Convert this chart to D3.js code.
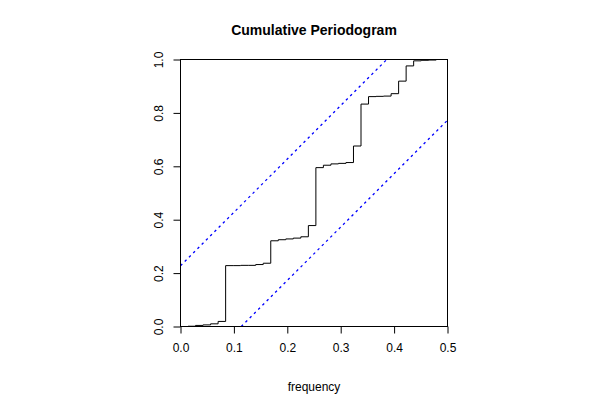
<!DOCTYPE html>
<html>
<head>
<meta charset="utf-8">
<script src="https://cdn.jsdelivr.net/npm/d3@7"></script>
<style>
  html, body { margin: 0; padding: 0; background: #fff; }
  svg { display: block; font-family: "Liberation Sans", Arial, Helvetica, sans-serif; }
</style>
</head>
<body>
<svg id="chart" width="600" height="400"></svg>
<script>
// ---- data ----
const frequency = [0, 0.01408, 0.02817, 0.04225, 0.05634, 0.07042, 0.08451, 0.09859, 0.11268, 0.12676,
  0.14085, 0.15493, 0.16901, 0.18310, 0.19718, 0.21127, 0.22535, 0.23944, 0.25352, 0.26761,
  0.28169, 0.29577, 0.30986, 0.32394, 0.33803, 0.35211, 0.36620, 0.38028, 0.39437, 0.40845,
  0.42254, 0.43662, 0.45070, 0.46479, 0.47887];
const cumulative = [0, 0.001, 0.004, 0.006, 0.010, 0.019, 0.228, 0.228, 0.229, 0.229,
  0.232, 0.237, 0.321, 0.325, 0.328, 0.331, 0.336, 0.378, 0.595, 0.604,
  0.609, 0.611, 0.614, 0.676, 0.833, 0.861, 0.862, 0.863, 0.872, 0.919,
  0.976, 0.995, 0.997, 0.998, 1.0];
const upperBandX = [0, 0.38625];
const upperBandY = [0.2275, 1];
const lowerBandX = [0.11375, 0.5];
const lowerBandY = [0, 0.7725];
const xTicks = [0, 0.1, 0.2, 0.3, 0.4, 0.5];
const xTickLabels = ["0.0", "0.1", "0.2", "0.3", "0.4", "0.5"];
const yTicks = [0, 0.2, 0.4, 0.6, 0.8, 1.0];
const yTickLabels = ["0.0", "0.2", "0.4", "0.6", "0.8", "1.0"];
const titleText = "Cumulative Periodogram";
const xLabelText = "frequency";

(function () {
  const svg = d3.select("#chart");
  const pL = 180.5, pR = 447.5, pT = 59.5, pB = 326.5;
  const x = d3.scaleLinear().domain([0, 0.5]).range([pL, pR]);
  const y = d3.scaleLinear().domain([0, 1]).range([pB, pT]);

  // step line
  const pts = frequency.map((f, i) => [f, cumulative[i]]);
  svg.append("path")
    .datum(pts)
    .attr("fill", "none")
    .attr("stroke", "#000")
    .attr("stroke-width", 1)
    .attr("d", d3.line().x(d => x(d[0])).y(d => y(d[1])).curve(d3.curveStepAfter));

  // confidence bands
  const band = d3.line().x(d => x(d[0])).y(d => y(d[1]));
  [[upperBandX, upperBandY], [lowerBandX, lowerBandY]].forEach(([bx, by]) => {
    svg.append("path")
      .datum(bx.map((v, i) => [v, by[i]]))
      .attr("fill", "none")
      .attr("stroke", "#0000ff")
      .attr("stroke-width", 1.3)
      .attr("stroke-dasharray", "2.5,3.5")
      .attr("d", band);
  });

  // box
  svg.append("rect")
    .attr("x", pL).attr("y", pT)
    .attr("width", pR - pL).attr("height", pB - pT)
    .attr("fill", "none").attr("stroke", "#000").attr("stroke-width", 1);

  // x axis
  const xAxis = d3.axisBottom(x).tickValues(xTicks)
    .tickFormat((d, i) => xTickLabels[i]).tickSize(7).tickPadding(10);
  const gx = svg.append("g").attr("transform", `translate(0,${pB})`).call(xAxis);
  gx.select(".domain").remove();
  gx.selectAll("text").attr("font-size", 12).attr("fill", "#000")
    .attr("font-family", "Liberation Sans, Arial, sans-serif");
  gx.selectAll("line").attr("stroke", "#000");

  // y axis
  const yAxis = d3.axisLeft(y).tickValues(yTicks)
    .tickFormat((d, i) => yTickLabels[i]).tickSize(7);
  const gy = svg.append("g").attr("transform", `translate(${pL},0)`).call(yAxis);
  gy.select(".domain").remove();
  gy.selectAll("line").attr("stroke", "#000");
  gy.selectAll("text")
    .attr("font-size", 12).attr("fill", "#000")
    .attr("font-family", "Liberation Sans, Arial, sans-serif")
    .attr("x", null).attr("dy", null)
    .attr("text-anchor", "middle")
    .attr("transform", "translate(-22,0) rotate(-90)")
    .attr("dominant-baseline", "central");

  // title
  svg.append("text")
    .attr("x", (pL + pR) / 2).attr("y", 35)
    .attr("text-anchor", "middle")
    .attr("font-size", 14).attr("font-weight", "bold")
    .text(titleText);

  // x label
  svg.append("text")
    .attr("x", (pL + pR) / 2).attr("y", 391)
    .attr("text-anchor", "middle")
    .attr("font-size", 12)
    .text(xLabelText);
})();
</script>
</body>
</html>
